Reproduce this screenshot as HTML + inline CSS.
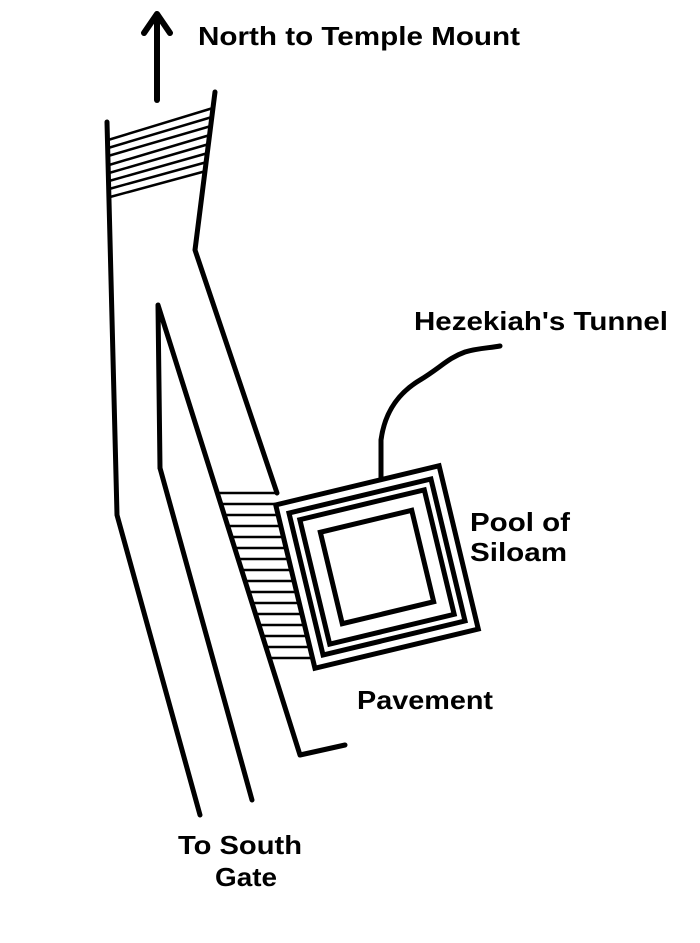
<!DOCTYPE html>
<html><head><style>html,body{margin:0;padding:0;background:#fff;}svg{display:block}</style></head>
<body>
<svg width="700" height="943" viewBox="0 0 700 943" xmlns="http://www.w3.org/2000/svg">
<g fill="none" stroke="#000" stroke-width="5" stroke-linecap="round" stroke-linejoin="round">
<line x1="157" y1="100" x2="157" y2="16" stroke-width="6"/>
<polyline points="144,33 157,14 170,33" stroke-width="6"/>
<polyline points="107,122 117,515 200,815"/>
<polyline points="215,92 195,250 277,493"/>
<polyline points="160,468 158,305 300,755 345,745"/>
<polyline points="160,468 252,800"/>
<path d="M381,478 L381,440 C385,410 400,392 420,380 C440,368 448,358 465,352 C478,348 490,348 500,346"/>
</g>
<g stroke="#000" stroke-width="2.5">
<line x1="108" y1="140" x2="213" y2="108"/>
<line x1="108" y1="148" x2="212" y2="117"/>
<line x1="108" y1="156" x2="211" y2="126"/>
<line x1="109" y1="165" x2="210" y2="135"/>
<line x1="109" y1="173" x2="209" y2="144"/>
<line x1="109" y1="181" x2="208" y2="153"/>
<line x1="109" y1="189" x2="207" y2="162"/>
<line x1="110" y1="197" x2="206" y2="171"/>
</g>
<g stroke="#000" stroke-width="2.5">
<line x1="217" y1="493" x2="277" y2="493"/>
<line x1="221" y1="504" x2="279" y2="504"/>
<line x1="224" y1="515" x2="281" y2="515"/>
<line x1="228" y1="526" x2="284" y2="526"/>
<line x1="231" y1="537" x2="286" y2="537"/>
<line x1="235" y1="548" x2="289" y2="548"/>
<line x1="238" y1="559" x2="291" y2="559"/>
<line x1="242" y1="570" x2="294" y2="570"/>
<line x1="245" y1="581" x2="296" y2="581"/>
<line x1="249" y1="592" x2="299" y2="592"/>
<line x1="252" y1="603" x2="301" y2="603"/>
<line x1="256" y1="614" x2="304" y2="614"/>
<line x1="259" y1="625" x2="306" y2="625"/>
<line x1="263" y1="636" x2="309" y2="636"/>
<line x1="266" y1="647" x2="311" y2="647"/>
<line x1="270" y1="658" x2="314" y2="658"/>
</g>
<g fill="#fff" stroke="#000" stroke-width="5" transform="rotate(-13.5 377 567)">
<rect x="293" y="483" width="168" height="168"/>
<rect x="304" y="494" width="146" height="146"/>
<rect x="313" y="503" width="128" height="128"/>
<rect x="330" y="520" width="94" height="94"/>
</g>
<g font-family="Liberation Sans, sans-serif" font-weight="bold" font-size="26" fill="#000">
<text x="198" y="45" textLength="322" lengthAdjust="spacingAndGlyphs">North to Temple Mount</text>
<text x="414" y="330" textLength="254" lengthAdjust="spacingAndGlyphs">Hezekiah's Tunnel</text>
<text x="470" y="531" textLength="100" lengthAdjust="spacingAndGlyphs">Pool of</text>
<text x="470" y="561" textLength="97" lengthAdjust="spacingAndGlyphs">Siloam</text>
<text x="357" y="709" textLength="136" lengthAdjust="spacingAndGlyphs">Pavement</text>
<text x="178" y="854" textLength="124" lengthAdjust="spacingAndGlyphs">To South</text>
<text x="215" y="886" textLength="62" lengthAdjust="spacingAndGlyphs">Gate</text>
</g>
</svg>
</body></html>
